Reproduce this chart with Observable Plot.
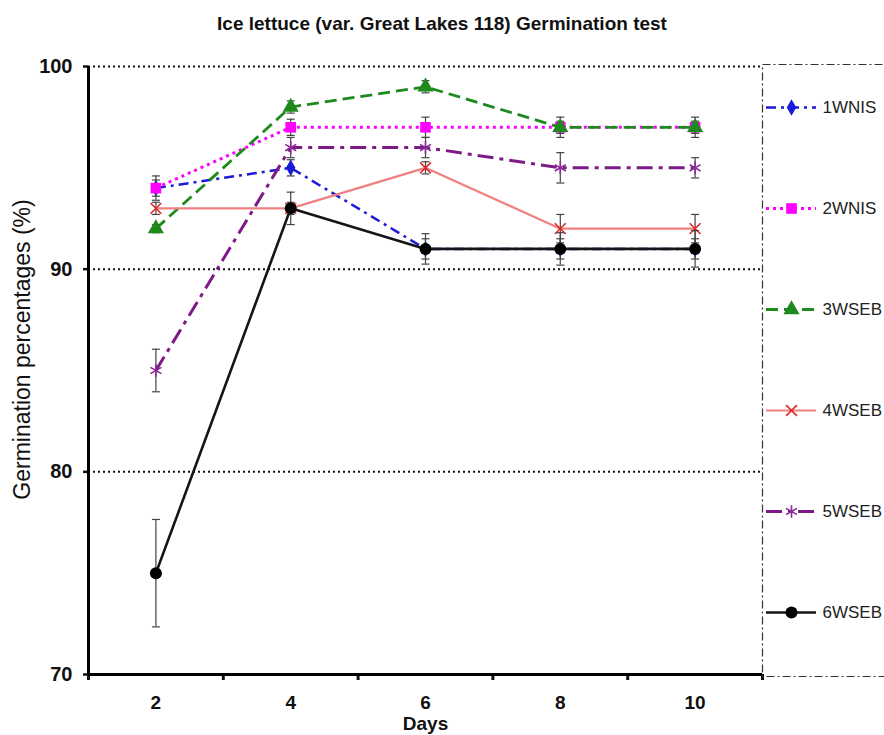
<!DOCTYPE html>
<html>
<head>
<meta charset="utf-8">
<script src="https://cdn.jsdelivr.net/npm/d3@7"></script>
<script src="https://cdn.jsdelivr.net/npm/@observablehq/plot@0.6"></script>
<style>
  html, body { margin: 0; padding: 0; background: #fff; overflow: hidden; }
  #wrap { position: relative; width: 884px; height: 735px; overflow: hidden; font-family: "Liberation Sans", Arial, sans-serif; }
  #title { height: 40px; padding-top: 4px; line-height: 40px; text-align: center; font-size: 19px; font-weight: bold; color: #111; white-space: nowrap; }
  #chart { position: relative; }
  #legend { position: absolute; left: 762px; top: 0; width: 140px; }
  #legend svg { max-width: none; }
</style>
</head>
<body>
<div id="wrap">
  <div id="title">Ice lettuce (var. Great Lakes 118) Germination test</div>
  <div id="chart"><div id="legend"></div></div>
</div>
<script>
// ---- data ----
const days = [2, 4, 6, 8, 10];
const seriesNames = ["1WNIS", "2WNIS", "3WSEB", "4WSEB", "5WSEB", "6WSEB"];
const values1 = [94, 95, 91, 91, 91];
const errors1 = [0.4, 0.4, 0.5, 0.5, 0.5];
const values2 = [94, 97, 97, 97, 97];
const errors2 = [0.6, 0.4, 0.5, 0.5, 0.5];
const values3 = [92, 98, 99, 97, 97];
const errors3 = [0.2, 0.3, 0.3, 0.3, 0.3];
const values4 = [93, 93, 95, 92, 92];
const errors4 = [0.3, 0.3, 0.3, 0.7, 0.7];
const values5 = [85, 96, 96, 95, 95];
const errors5 = [1.05, 0.5, 0.5, 0.75, 0.5];
const values6 = [75, 93, 91, 91, 91];
const errors6 = [2.65, 0.8, 0.75, 0.8, 0.9];
const yTicks = [70, 80, 90, 100];
const yGrid = [80, 90, 100];
const xDomain = [1, 11];
const xTickMarks = [1, 3, 5, 7, 9, 11];
const xLabel = "Days";
const yLabel = "Germination percentages (%)";

// ---- styles ----
const colors = ["#1a1ad8", "#ff00ff", "#1e8a1e", "#f08080", "#7d1a86", "#151515"];
const markerColors = ["#1a1ad8", "#ff00ff", "#1e8a1e", "#e02828", "#8a2a96", "#000000"];
const dashes = ["10,5,3,5", "3,4", "12,6", "none", "16,6,4,6", "none"];
const widths = [2.5, 3, 2.8, 2.2, 3, 2.6];
const symbols = ["diamond", "square", "triangle", "times", "asterisk", "circle"];
const symbolSizes = [5, 6, 6, 5, 6, 6];
const filled = [true, true, true, false, false, true];

const valueSets = [values1, values2, values3, values4, values5, values6];
const errorSets = [errors1, errors2, errors3, errors4, errors5, errors6];

const rows = seriesNames.flatMap((name, i) =>
  days.map((day, j) => ({ series: name, idx: i, day, value: valueSets[i][j], err: errorSets[i][j] }))
);

const cap = {
  draw(ctx, size) {
    const w = Math.sqrt(size / Math.PI);
    ctx.moveTo(-w, 0);
    ctx.lineTo(w, 0);
  }
};

const markerOpts = (i, extra) => filled[i]
  ? { symbol: symbols[i], r: symbolSizes[i], fill: markerColors[i], stroke: "none", ...extra }
  : { symbol: symbols[i], r: symbolSizes[i], stroke: markerColors[i], strokeWidth: 1.6, fill: "none", ...extra };

const seriesMarks = seriesNames.flatMap((name, i) => {
  const d = rows.filter(r => r.series === name);
  return [
    Plot.line(d, { x: "day", y: "value", stroke: colors[i], strokeWidth: widths[i], strokeDasharray: dashes[i], strokeLinecap: "butt" }),
    Plot.ruleX(d, { x: "day", y1: r => r.value - r.err, y2: r => r.value + r.err, stroke: "#444", strokeWidth: 1.2 }),
    Plot.dot(d, { x: "day", y: r => r.value - r.err, symbol: cap, r: 4, stroke: "#444", strokeWidth: 1.2 }),
    Plot.dot(d, { x: "day", y: r => r.value + r.err, symbol: cap, r: 4, stroke: "#444", strokeWidth: 1.2 }),
    Plot.dot(d, markerOpts(i, { x: "day", y: "value" }))
  ];
});

const main = Plot.plot({
  width: 884,
  height: 691,
  marginLeft: 88,
  marginRight: 122,
  marginTop: 22,
  marginBottom: 61,
  x: { domain: xDomain },
  y: { domain: [yTicks[0], yTicks[yTicks.length - 1]] },
  style: { fontFamily: "'Liberation Sans', Arial, sans-serif", background: "white", color: "#111" },
  marks: [
    Plot.ruleY(yGrid, { stroke: "#111", strokeWidth: 2, strokeDasharray: "2,3" }),
    Plot.axisY({ ticks: yTicks, tickSize: 5, tickPadding: 11, fontSize: 20, fontWeight: "bold", strokeWidth: 2.5, label: null }),
    Plot.axisX({ ticks: xTickMarks, tickSize: 6, tickFormat: () => "", strokeWidth: 3, label: null }),
    Plot.axisX({ ticks: days, tickSize: 0, tickPadding: 21, fontSize: 19, fontWeight: "bold", label: null }),
    Plot.ruleX([xDomain[0]], { stroke: "#000", strokeWidth: 3 }),
    Plot.ruleY([yTicks[0]], { stroke: "#000", strokeWidth: 3 }),
    ...seriesMarks,
    Plot.text([xLabel], { frameAnchor: "bottom", dy: 55, fontSize: 19, fontWeight: "bold", fill: "#111" }),
    Plot.text([yLabel], { frameAnchor: "left", textAnchor: "middle", dx: -66, dy: -21, rotate: -90, fontSize: 23, fill: "#111" })
  ]
});
document.getElementById("chart").prepend(main);

// ---- legend ----
const legendRows = seriesNames.map((name, i) => ({ series: name, idx: i }));
const legendMarks = seriesNames.flatMap((name, i) => {
  const d = [legendRows[i]];
  return [
    Plot.ruleY(d, { y: "series", x1: 0, x2: 1, stroke: colors[i], strokeWidth: widths[i], strokeDasharray: dashes[i] }),
    Plot.dot(d, markerOpts(i, { x: 0.5, y: "series" })),
    Plot.text(d, { x: 1, y: "series", text: "series", dx: 6, textAnchor: "start", fontSize: 17, fill: "#222" })
  ];
});
const legend = Plot.plot({
  width: 140,
  height: 691,
  marginLeft: 0,
  marginRight: 0,
  marginTop: 20,
  marginBottom: 59,
  x: { domain: [0, 1], range: [4, 54], axis: null },
  y: { type: "point", domain: seriesNames, range: [61, 569], padding: 0, axis: null },
  style: { fontFamily: "'Liberation Sans', Arial, sans-serif", background: "transparent", overflow: "visible" },
  marks: [
    Plot.frame({ stroke: "#333", strokeWidth: 1.2, strokeDasharray: "8,3,2,3" }),
    ...legendMarks
  ]
});
document.getElementById("legend").append(legend);
</script>
</body>
</html>
